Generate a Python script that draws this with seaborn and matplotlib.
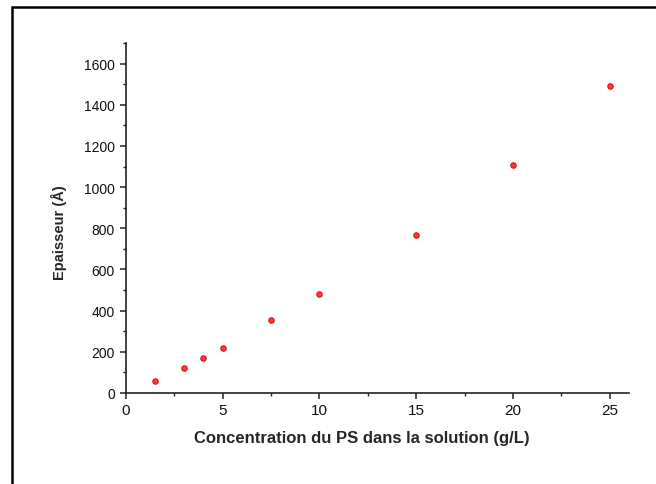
import matplotlib
matplotlib.use("Agg")
import matplotlib.pyplot as plt
from matplotlib.patches import Rectangle
from matplotlib.ticker import MultipleLocator
import seaborn as sns
import pandas as pd

concentration = [1.5, 3, 4, 5, 7.5, 10, 15, 20, 25]
epaisseur = [60, 120, 168, 217, 354, 482, 766, 1106, 1489]
xlabel = "Concentration du PS dans la solution (g/L)"
ylabel = "Epaisseur (Å)"

df = pd.DataFrame({"x": concentration, "y": epaisseur})

sns.set_style("ticks")
plt.rcParams['font.family'] = ['Liberation Sans', 'DejaVu Sans']

fig = plt.figure(figsize=(6.56, 4.85), dpi=100)
ax = fig.add_axes([126/656, 1 - 394/485, (629-126)/656, (394-44)/485])

sns.scatterplot(data=df, x="x", y="y", ax=ax, marker="o", s=15,
                color="#ff3838", edgecolor="#e01010", linewidth=0.8, zorder=3)

ax.set_xlim(0, 26)
ax.set_ylim(0, 1700)
ax.xaxis.set_major_locator(MultipleLocator(5))
ax.xaxis.set_minor_locator(MultipleLocator(2.5))
ax.yaxis.set_major_locator(MultipleLocator(200))
ax.yaxis.set_minor_locator(MultipleLocator(100))

for side in ["top", "right"]:
    ax.spines[side].set_visible(False)
for side in ["left", "bottom"]:
    ax.spines[side].set_linewidth(1.2)
    ax.spines[side].set_color("#222222")

ax.tick_params(which="major", direction="out", length=4.5, width=1.1,
               colors="#222222", labelcolor="#111111")
ax.tick_params(which="minor", direction="out", length=2.2, width=1.0, colors="#222222")
ax.tick_params(axis="x", which="major", labelsize=11, pad=3)
ax.tick_params(axis="y", which="major", labelsize=10, pad=3.5)

ax.set_xlabel(xlabel, fontsize=12, fontweight="bold")
ax.set_ylabel(ylabel, fontsize=10.5, fontweight="bold")
ax.xaxis.set_label_coords(0.468, -0.105)
ax.yaxis.set_label_coords(-0.117, 0.46)

# outer frame (cropped, left and top edges visible)
fig.patches.append(Rectangle((11.8/656, -0.1), 1.2, 1 - 8.3/485 + 0.1,
                             transform=fig.transFigure, fill=False,
                             edgecolor="black", linewidth=1.8, zorder=0))

fig.savefig("out.png", dpi=100)
